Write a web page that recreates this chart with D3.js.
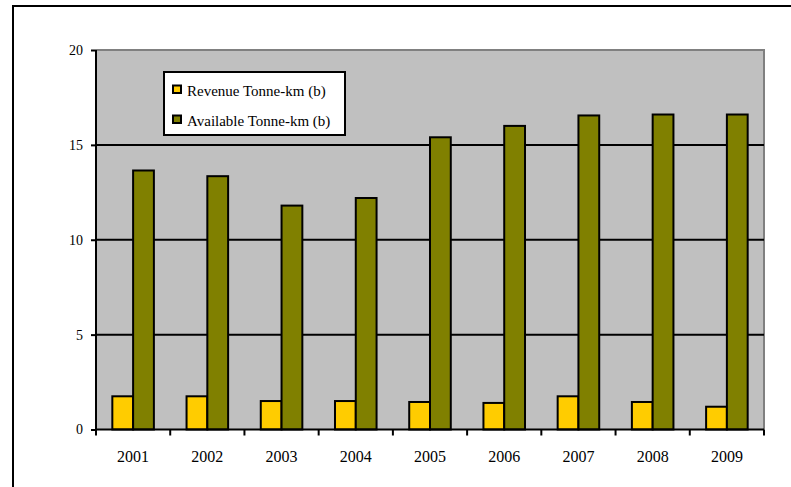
<!DOCTYPE html>
<html>
<head>
<meta charset="utf-8">
<script src="https://cdn.jsdelivr.net/npm/d3@7"></script>
<style>
  html, body { margin: 0; padding: 0; background: #fff; }
  svg { display: block; }
</style>
</head>
<body>
<script>
// Cargo capacity vs. traffic, billions of tonne-km
const years = ["2001", "2002", "2003", "2004", "2005", "2006", "2007", "2008", "2009"];
const revenueTkm = [1.75, 1.75, 1.5, 1.5, 1.45, 1.4, 1.75, 1.45, 1.2];
const availableTkm = [13.65, 13.35, 11.8, 12.2, 15.4, 16.0, 16.55, 16.6, 16.6];
const yTicks = [0, 5, 10, 15, 20];
const seriesNames = ["Revenue Tonne-km (b)", "Available Tonne-km (b)"];
const seriesColors = ["#FFCC00", "#808000"];

const FONT = "Liberation Serif, DejaVu Serif, serif";
const W = 791, H = 487;
const plot = { left: 96, right: 764, top: 50, bottom: 429.5 };

const svg = d3.select("body").append("svg")
  .attr("width", W).attr("height", H)
  .attr("font-family", FONT);

// chart frame (runs off the right and bottom edges)
svg.append("rect")
  .attr("x", 13).attr("y", 6)
  .attr("width", W + 20).attr("height", H + 20)
  .attr("fill", "#fff").attr("stroke", "#000").attr("stroke-width", 2);

const y = d3.scaleLinear().domain([0, 20]).range([plot.bottom, plot.top]);
const x0 = d3.scaleBand().domain(years)
  .range([plot.left, plot.right])
  .paddingInner(0.44).paddingOuter(0.22);
const x1 = d3.scaleBand().domain([0, 1]).range([0, x0.bandwidth()]);

// plot area
svg.append("rect")
  .attr("x", plot.left).attr("y", plot.top)
  .attr("width", plot.right - plot.left).attr("height", plot.bottom - plot.top)
  .attr("fill", "#C0C0C0");
svg.append("path")
  .attr("d", `M${plot.left},${plot.top}H${plot.right}V${plot.bottom}`)
  .attr("fill", "none").attr("stroke", "#808080").attr("stroke-width", 2);

// gridlines
svg.append("g").selectAll("line")
  .data(yTicks.filter(v => v > 0 && v < 20))
  .join("line")
  .attr("x1", plot.left).attr("x2", plot.right)
  .attr("y1", d => y(d)).attr("y2", d => y(d))
  .attr("stroke", "#000").attr("stroke-width", 2);

// bars
const groups = svg.append("g").selectAll("g")
  .data(years.map((yr, i) => ({ yr, vals: [revenueTkm[i], availableTkm[i]] })))
  .join("g")
  .attr("transform", d => `translate(${x0(d.yr)},0)`);
groups.selectAll("rect")
  .data(d => d.vals.map((v, k) => ({ v, k })))
  .join("rect")
  .attr("x", d => x1(d.k))
  .attr("y", d => y(d.v))
  .attr("width", x1.bandwidth())
  .attr("height", d => y(0) - y(d.v))
  .attr("fill", d => seriesColors[d.k])
  .attr("stroke", "#000").attr("stroke-width", 2);

// y axis
const yAxis = svg.append("g")
  .attr("transform", `translate(${plot.left},0)`)
  .call(d3.axisLeft(y).tickValues(yTicks).tickSize(5).tickPadding(8))
  .attr("font-family", FONT).attr("font-size", 14);
yAxis.select(".domain").attr("stroke", "#000").attr("stroke-width", 2)
  .attr("d", `M0,${plot.top}V${plot.bottom}`);
yAxis.selectAll(".tick line").attr("stroke", "#000").attr("stroke-width", 2);
yAxis.selectAll(".tick text").attr("fill", "#000");

// x axis: ticks sit on category boundaries
const xAxis = svg.append("g").attr("transform", `translate(0,${plot.bottom})`);
xAxis.append("line")
  .attr("x1", plot.left).attr("x2", plot.right)
  .attr("stroke", "#000").attr("stroke-width", 2);
const step = x0.step();
const bounds = d3.range(years.length + 1).map(i => plot.left + i * step);
xAxis.selectAll(".xt").data(bounds).join("line")
  .attr("class", "xt")
  .attr("x1", d => d).attr("x2", d => d)
  .attr("y1", 0).attr("y2", 6)
  .attr("stroke", "#000").attr("stroke-width", 2);
xAxis.selectAll(".xl").data(years).join("text")
  .attr("class", "xl")
  .attr("x", d => x0(d) + x0.bandwidth() / 2)
  .attr("y", 32.5)
  .attr("text-anchor", "middle")
  .attr("font-size", 16)
  .attr("fill", "#000")
  .text(d => d);

// legend
const legend = svg.append("g");
legend.append("rect")
  .attr("x", 164).attr("y", 72).attr("width", 181).attr("height", 63)
  .attr("fill", "#fff").attr("stroke", "#000").attr("stroke-width", 2);
const items = legend.selectAll(".li").data(seriesNames).join("g")
  .attr("class", "li")
  .attr("transform", (d, i) => `translate(0,${i * 30})`);
items.append("rect")
  .attr("x", 173).attr("y", 85.5).attr("width", 8).attr("height", 7.5)
  .attr("fill", (d, i) => seriesColors[i])
  .attr("stroke", "#000").attr("stroke-width", 2);
items.append("text")
  .attr("x", 187).attr("y", 95.5)
  .attr("font-size", 15)
  .attr("fill", "#000")
  .text(d => d);
</script>
</body>
</html>
